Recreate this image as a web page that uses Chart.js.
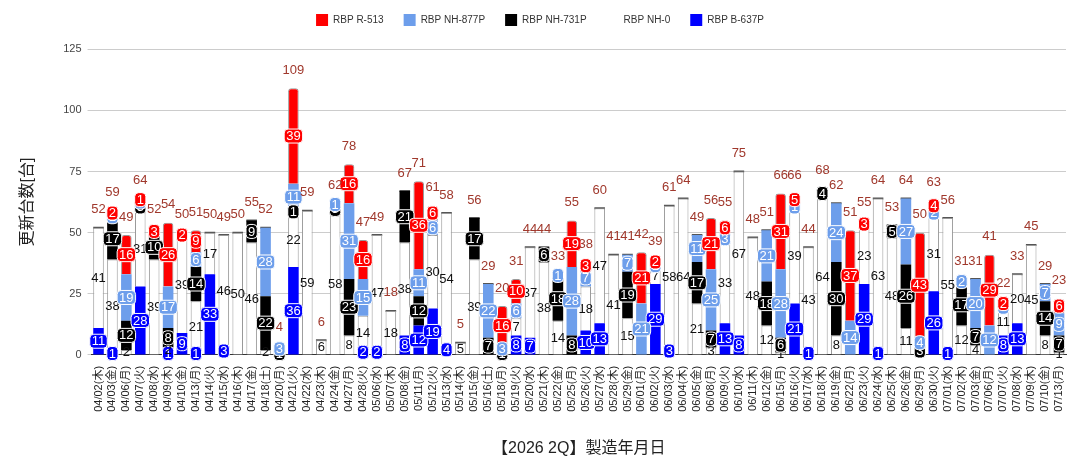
<!DOCTYPE html>
<html>
<head>
<meta charset="utf-8">
<script src="https://cdn.jsdelivr.net/npm/chart.js@4.4.1/dist/chart.umd.min.js"></script>
<style>
    html, body { margin: 0; padding: 0; background: #fff; }
    #wrap { width: 1088px; height: 468px; }
</style>
</head>
<body>
<div id="wrap"><canvas id="chart"></canvas></div>
<script>
const FONT = '"Liberation Sans", Arial, "Noto Sans CJK JP", sans-serif';

const dates = [
    '04/02(木)', '04/03(金)', '04/06(月)', '04/07(火)', '04/08(水)', '04/09(木)', '04/10(金)', '04/13(月)', '04/14(火)', '04/15(水)',
    '04/16(木)', '04/17(金)', '04/18(土)', '04/20(月)', '04/21(火)', '04/22(水)', '04/23(木)', '04/24(金)', '04/27(月)', '04/28(火)',
    '05/06(水)', '05/07(木)', '05/08(金)', '05/11(月)', '05/12(火)', '05/13(水)', '05/14(木)', '05/15(金)', '05/16(土)', '05/18(月)',
    '05/19(火)', '05/20(水)', '05/21(木)', '05/22(金)', '05/25(月)', '05/26(火)', '05/27(水)', '05/28(木)', '05/29(金)', '06/01(月)',
    '06/02(火)', '06/03(水)', '06/04(木)', '06/05(金)', '06/08(月)', '06/09(火)', '06/10(水)', '06/11(木)', '06/12(金)', '06/15(月)',
    '06/16(火)', '06/17(水)', '06/18(木)', '06/19(金)', '06/22(月)', '06/23(火)', '06/24(水)', '06/25(木)', '06/26(金)', '06/29(月)',
    '06/30(火)', '07/01(水)', '07/02(木)', '07/03(金)', '07/06(月)', '07/07(火)', '07/08(水)', '07/09(木)', '07/10(金)', '07/13(月)'
];

// stacked bottom -> top
const b637p = [
    11, 1, 0, 28, 0, 1, 9, 1, 33, 3,
    0, 0, 0, 0, 36, 0, 0, 0, 0, 2,
    2, 0, 8, 12, 19, 4, 0, 0, 0, 0,
    8, 7, 0, 0, 0, 10, 13, 0, 0, 0,
    29, 3, 0, 0, 0, 13, 8, 0, 0, 0,
    21, 1, 0, 0, 0, 29, 1, 0, 0, 0,
    26, 1, 0, 0, 0, 8, 13, 0, 0, 0
];
const nh0 = [
    41, 38, 2, 31, 39, 2, 39, 21, 17, 46,
    50, 46, 2, 0, 22, 59, 6, 58, 8, 14,
    47, 18, 38, 0, 30, 54, 5, 39, 0, 0,
    7, 37, 38, 14, 0, 18, 47, 41, 15, 0,
    7, 58, 64, 21, 3, 33, 67, 48, 12, 1,
    39, 43, 64, 8, 0, 23, 63, 48, 11, 0,
    31, 55, 12, 4, 0, 11, 20, 45, 8, 1
];
const nh731p = [
    0, 17, 12, 3, 10, 8, 0, 14, 0, 0,
    0, 9, 22, 1, 1, 0, 0, 3, 23, 0,
    0, 0, 21, 12, 0, 0, 0, 17, 7, 1,
    0, 0, 6, 18, 8, 0, 0, 0, 19, 0,
    0, 0, 0, 17, 7, 0, 0, 0, 18, 6,
    0, 0, 4, 30, 0, 0, 0, 5, 26, 3,
    0, 0, 17, 7, 0, 0, 0, 0, 14, 7
];
const nh877p = [
    0, 1, 19, 1, 0, 17, 0, 6, 0, 0,
    0, 0, 28, 3, 11, 0, 0, 1, 31, 15,
    0, 0, 0, 11, 6, 0, 0, 0, 22, 3,
    6, 0, 0, 1, 28, 7, 0, 0, 7, 21,
    1, 0, 0, 11, 25, 3, 0, 0, 21, 28,
    1, 0, 0, 24, 14, 0, 0, 0, 27, 4,
    2, 0, 2, 20, 12, 1, 0, 0, 7, 9
];
const r513 = [
    0, 2, 16, 1, 3, 26, 2, 9, 0, 0,
    0, 0, 0, 0, 39, 0, 0, 0, 16, 16,
    0, 0, 0, 36, 6, 0, 0, 0, 0, 16,
    10, 0, 0, 0, 19, 3, 0, 0, 0, 21,
    2, 0, 0, 0, 21, 6, 0, 0, 0, 31,
    5, 0, 0, 0, 37, 3, 0, 0, 0, 43,
    4, 0, 0, 0, 29, 2, 0, 0, 0, 6
];

const yTicks = [0, 25, 50, 75, 100, 125];

const totals = dates.map((_, i) => b637p[i] + nh0[i] + nh731p[i] + nh877p[i] + r513[i]);

// value labels inside segments + totals above bars
const segmentLabels = {
    id: 'segmentLabels',
    afterDatasetsDraw(chart) {
        const ctx = chart.ctx;
        ctx.save();
        ctx.font = '13px ' + FONT;
        ctx.textAlign = 'center';
        ctx.textBaseline = 'middle';
        chart.data.datasets.forEach((ds, di) => {
            const meta = chart.getDatasetMeta(di);
            meta.data.forEach((bar, i) => {
                const v = ds.data[i];
                if (!v) return;
                const p = bar.getProps(['x', 'y', 'base'], true);
                const cy = (p.y + p.base) / 2;
                const text = String(v);
                if (ds.labelBg) {
                    const w = ctx.measureText(text).width + 4;
                    const h = 14;
                    ctx.beginPath();
                    ctx.roundRect(p.x - w / 2, cy - h / 2, w, h, 4);
                    ctx.fillStyle = ds.labelBg;
                    ctx.fill();
                    ctx.lineWidth = 1;
                    ctx.strokeStyle = '#fff';
                    ctx.stroke();
                }
                ctx.fillStyle = ds.labelColor;
                ctx.fillText(text, p.x, cy + 0.5);
            });
        });
        const yScale = chart.scales.y;
        const meta0 = chart.getDatasetMeta(0);
        ctx.fillStyle = '#a0382c';
        totals.forEach((t, i) => {
            ctx.fillText(String(t), meta0.data[i].x, yScale.getPixelForValue(t) - 18);
        });
        ctx.restore();
    }
};

const ctx = document.getElementById('chart').getContext('2d');
new Chart(ctx, {
    type: 'bar',
    data: {
        labels: dates,
        datasets: [
            { label: 'RBP B-637P', data: b637p, backgroundColor: '#0000ff', legendColor: '#0000ff',
              borderWidth: 0, labelBg: '#0000ff', labelColor: '#fff' },
            { label: 'RBP NH-0', data: nh0, backgroundColor: '#ffffff', legendColor: '#ffffff',
              borderColor: '#999', borderWidth: 1, labelBg: null, labelColor: '#111' },
            { label: 'RBP NH-731P', data: nh731p, backgroundColor: '#000000', legendColor: '#000000',
              borderWidth: 0, labelBg: '#000000', labelColor: '#fff' },
            { label: 'RBP NH-877P', data: nh877p, backgroundColor: '#6d9eeb', legendColor: '#6d9eeb',
              borderWidth: 0, labelBg: '#6d9eeb', labelColor: '#fff' },
            { label: 'RBP R-513', data: r513, legendColor: '#ff0000',
              backgroundColor: c => (c.raw === 0 ? '#555' : '#ff0000'),
              borderColor: '#999', borderWidth: c => (c.raw === 0 ? 0 : 1),
              borderRadius: 3, minBarLength: 2, labelBg: '#ff0000', labelColor: '#fff' }
        ]
    },
    options: {
        responsive: true,
        maintainAspectRatio: false,
        animation: false,
        layout: { padding: { top: -6, right: 22, bottom: 6, left: 14 } },
        datasets: { bar: { categoryPercentage: 0.8, barPercentage: 0.95 } },
        scales: {
            x: {
                stacked: true,
                grid: { display: false },
                border: { color: '#333' },
                ticks: { autoSkip: false, minRotation: 90, maxRotation: 90, color: '#222', font: { size: 11, family: FONT } },
                title: { display: true, text: '【2026 2Q】製造年月日', color: '#222', padding: { top: 24, bottom: 4 },
                         font: { size: 16, family: FONT } }
            },
            y: {
                stacked: true,
                min: 0,
                max: 125,
                afterBuildTicks: axis => { axis.ticks = yTicks.map(v => ({ value: v })); },
                grid: { color: '#ccc', tickLength: 4 },
                border: { display: false },
                ticks: { color: '#444', padding: 6, font: { size: 11, family: FONT } },
                title: { display: true, text: '更新台数[台]', color: '#222', padding: { top: 4, bottom: 20 },
                         font: { size: 16, family: FONT } }
            }
        },
        plugins: {
            tooltip: { enabled: false },
            // empty spacer below the legend
            subtitle: { display: true, text: '', weight: 500, padding: { top: 12, bottom: 0 }, font: { size: 1 } },
            legend: {
                position: 'top',
                reverse: true,
                labels: {
                    boxWidth: 12,
                    boxHeight: 12,
                    padding: 20,
                    color: '#333',
                    font: { size: 10, family: FONT },
                    generateLabels: chart => {
                        const items = Chart.defaults.plugins.legend.labels.generateLabels(chart);
                        items.forEach(it => {
                            it.fillStyle = chart.data.datasets[it.datasetIndex].legendColor;
                            it.lineWidth = 0;
                            it.strokeStyle = 'rgba(0,0,0,0)';
                        });
                        return items;
                    }
                }
            }
        }
    },
    plugins: [segmentLabels]
});
</script>
</body>
</html>
